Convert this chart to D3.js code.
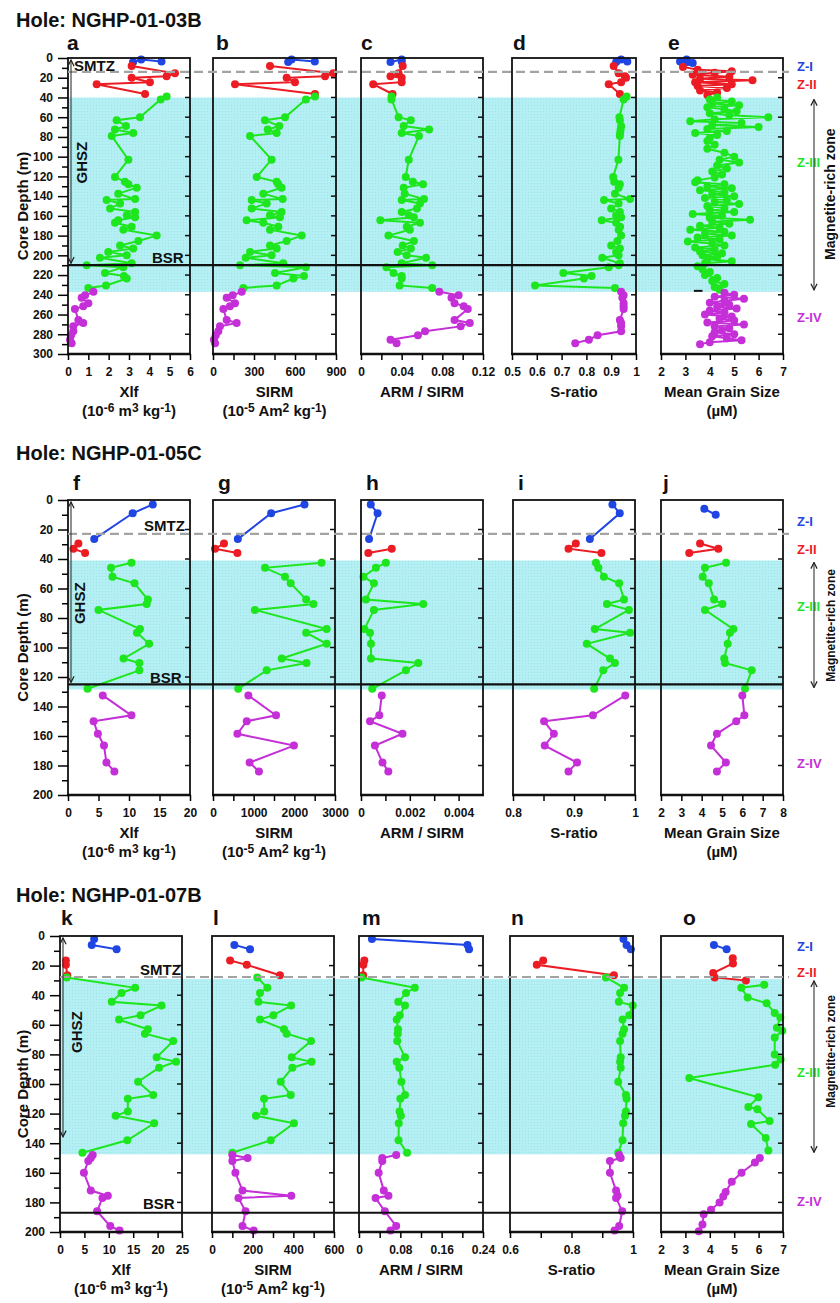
<!DOCTYPE html>
<html>
<head>
<meta charset="utf-8">
<script src="https://cdnjs.cloudflare.com/ajax/libs/d3/7.8.5/d3.min.js"></script>
<style>
  body { margin: 0; background: #fff; }
  text { font-family: "Liberation Sans Narrow", "Arial Narrow", "Liberation Sans", Arial, sans-serif; font-weight: bold; fill: #111; }
  .wide { font-family: "Liberation Sans", Arial, sans-serif; }
</style>
</head>
<body>
<svg id="fig" width="840" height="1303"></svg>
<script>
// zone colours + names
const zoneColor = ["#1f45e2", "#ec1c24", "#1ee61e", "#c42fd8"];
const zoneName = ["Z-I", "Z-II", "Z-III", "Z-IV"];

// ---------- Hole NGHP-01-03B ----------
const h03BlueDepth = [4, 1.5, 3.5];
const h03RedDepth = [8, 15.5, 18.5, 20, 24.5, 26.5, 36.5];
const h03GreenDepth = [39, 42, 60, 63, 69, 72.5, 76, 79, 103, 120.5, 125.5, 128, 131.5, 137.5, 143, 144, 147.5, 152.5, 156, 159.5,
  161.5, 164.5, 167, 171, 174, 180, 185.5, 190, 193, 196.5, 200, 202.5, 208, 210, 212, 218, 221, 223.5, 230.5, 233];
const h03MagDepth = [237, 240.5, 243, 248.5, 251.5, 254.5, 265.5, 268.5, 272, 277, 281, 285.5, 289];

const xlf03Blue = [3.2, 3.6, 4.6];
const xlf03Red = [3.13, 5.26, 4.85, 3.13, 4.03, 1.41, 3.79];
const xlf03Green = [4.85, 4.56, 3.54, 2.39, 2.85, 2.31, 3.21, 2.15, 2.97, 2.31, 2.8, 2.97, 3.38, 2.47, 3.3, 1.9, 2.56, 2.07, 3.3, 2.89,
  3.3, 2.47, 2.31, 3.13, 2.72, 4.36, 3.46, 2.56, 3.21, 1.98, 2.89, 1.57, 3.13, 0.92, 2.72, 1.82, 2.75, 2.89, 1.87, 1.0];
const xlf03Mag = [1.25, 0.84, 0.67, 1.0, 0.75, 0.34, 0.51, 0.75, 0.26, 0.26, 0.15, 0.1, 0.18];

const sirm03Blue = [550, 575, 745];
const sirm03Red = [417, 880, 820, 539, 600, 161, 746];
const sirm03Green = [746, 680, 527, 380, 485, 400, 466, 271, 429, 320, 466, 478, 502, 368, 510, 283, 393, 283, 502, 417,
  490, 246, 368, 478, 417, 649, 539, 417, 466, 271, 429, 239, 514, 198, 680, 454, 666, 588, 466, 222];
const sirm03Mag = [210, 144, 100, 161, 124, 76, 100, 173, 51, 39, 20, 7, 15];

const arm03Blue = [0.029, 0.040, 0.040];
const arm03Red = [0.041, 0.037, 0.029, 0.040, 0.040, 0.012, 0.031];
const arm03Green = [0.030, 0.030, 0.037, 0.049, 0.042, 0.067, 0.040, 0.057, 0.047, 0.044, 0.051, 0.061, 0.042, 0.043, 0.062, 0.040,
  0.058, 0.055, 0.040, 0.047, 0.052, 0.019, 0.058, 0.045, 0.048, 0.027, 0.052, 0.041, 0.049, 0.036, 0.045, 0.064, 0.040, 0.070,
  0.025, 0.032, 0.040, 0.040, 0.038, 0.070];
const arm03Mag = [0.077, 0.096, 0.089, 0.092, 0.101, 0.105, 0.092, 0.107, 0.098, 0.063, 0.056, 0.029, 0.035];

const sr03Blue = [0.92, 0.94, 0.965];
const sr03Red = [0.91, 0.93, 0.955, 0.96, 0.94, 0.89, 0.935];
const sr03Green = [0.962, 0.95, 0.933, 0.935, 0.94, 0.938, 0.936, 0.935, 0.929, 0.908, 0.912, 0.935, 0.93, 0.915, 0.976, 0.871,
  0.93, 0.9, 0.935, 0.92, 0.94, 0.862, 0.92, 0.936, 0.93, 0.94, 0.925, 0.9, 0.935, 0.92, 0.93, 0.864, 0.935, 0.93, 0.89, 0.707,
  0.821, 0.79, 0.593, 0.915];
const sr03Mag = [0.94, 0.95, 0.945, 0.95, 0.95, 0.95, 0.935, 0.94, 0.94, 0.94, 0.845, 0.81, 0.755];

// grain size was measured on a denser set of samples
const mgs03BlueDepth = [3.5, 1.5, 4, 5];
const mgs03Blue = [2.78, 3.05, 3.1, 3.3];
const mgs03RedDepth = [9, 12, 13.5, 15, 17, 19, 21, 22.5, 24.5, 26.5, 28.5, 30.5, 33, 35, 37.5];
const mgs03Red = [2.9, 3.5, 4.9, 4.2, 3.3, 4.8, 3.6, 5.75, 3.4, 4.9, 3.5, 4.7, 3.6, 4.3, 3.9];
const mgs03GreenDepth = [40, 42, 44, 46, 48, 50, 52, 54, 56, 58, 60, 62, 64, 66, 68, 70, 72, 74, 76, 78, 81, 84, 88, 92, 96, 100,
  103, 106, 109, 112, 115, 118, 121, 124, 126, 128, 130, 132, 134, 136, 138, 140, 142, 144, 146, 148, 150, 152, 154, 156, 158,
  160, 162, 164, 166, 168, 170, 172, 174, 176, 178, 180, 182, 184, 186, 188, 190, 192, 194, 196, 198, 200, 202, 204, 206, 208,
  211, 214, 217, 220, 223, 226, 229, 232, 235];
const mgs03Green = [4.3, 4.0, 4.9, 4.1, 5.2, 3.9, 4.6, 5.1, 4.0, 4.8, 6.4, 4.2, 3.2, 5.3, 4.1, 6.0, 3.9, 4.7, 3.4, 4.3, 4.0, 3.9,
  4.2, 3.9, 4.6, 5.0, 4.4, 5.2, 4.3, 4.7, 4.1, 4.5, 4.2, 3.5, 3.4, 4.6, 3.9, 4.9, 3.6, 4.6, 4.1, 5.0, 3.8, 4.7, 4.2, 5.2, 3.9, 4.6,
  4.0, 5.0, 3.3, 4.5, 4.0, 5.65, 4.1, 4.8, 3.6, 4.4, 3.2, 4.6, 3.8, 4.9, 3.5, 4.4, 3.1, 4.1, 4.6, 3.4, 4.2, 3.6, 4.5, 3.7, 4.3,
  3.9, 4.9, 3.8, 3.5, 3.7, 4.0, 3.8, 4.3, 4.1, 4.6, 4.2, 4.4];
const mgs03MagDepth = [238, 240, 242, 244, 246, 248, 250, 252, 254, 256, 258, 260, 262, 264, 266, 268, 270, 272, 274, 276, 278,
  280, 282, 284, 286, 288, 290];
const mgs03Mag = [4.6, 5.0, 4.2, 5.4, 4.6, 4.0, 4.8, 4.3, 5.1, 4.0, 4.6, 3.8, 4.9, 4.4, 5.0, 3.9, 5.4, 4.2, 4.8, 4.5, 4.2, 5.0,
  4.1, 4.7, 5.3, 4.0, 3.6];

// ---------- Hole NGHP-01-05C ----------
const h05BlueDepth = [3, 9, 26.5];
const h05RedDepth = [29.5, 33, 36];
const h05GreenDepth = [42.5, 46, 52, 56.5, 67.5, 70.5, 74.5, 87.5, 90, 97.5, 107.5, 110.5, 115.5, 128];
const h05MagDepth = [132.5, 146, 150, 158.5, 166.5, 178, 184];

const xlf05Blue = [13.9, 10.6, 4.3];
const xlf05Red = [1.7, 0.9, 2.8];
const xlf05Green = [10.4, 7.05, 7.3, 10.9, 13.1, 12.9, 5.0, 11.8, 11.3, 13.3, 9.1, 11.7, 11.7, 3.2];
const xlf05Mag = [5.7, 10.4, 4.2, 4.9, 5.9, 6.3, 7.6];

const sirm05Blue = [2250, 1430, 610];
const sirm05Red = [270, 50, 600];
const sirm05Green = [2670, 1280, 1770, 1910, 2290, 2470, 1030, 2795, 2290, 2795, 1690, 2300, 1320, 620];
const sirm05Mag = [870, 1550, 830, 600, 1990, 900, 1130];

const arm05Blue = [0.0004, 0.00068, 0.00033];
const arm05Red = [null, 0.00126, 0.0003];
const arm05Green = [0.00102, 0.00061, 0.0001, 0.00053, 0.0002, 0.00255, 0.00053, 0.00014, 0.00037, 0.00041, 0.00041, 0.00235,
  0.00184, 0.00046];
const arm05Mag = [0.00085, 0.00075, 0.00037, 0.0017, 0.00057, 0.00088, 0.00112];

const sr05Blue = [0.963, 0.975, 0.926];
const sr05Red = [0.903, 0.891, 0.945];
const sr05Green = [0.936, 0.94, 0.949, 0.974, 0.982, 0.954, 0.99, 0.934, 0.992, 0.921, 0.959, 0.967, 0.948, 0.933];
const sr05Mag = [0.984, 0.931, 0.851, 0.867, 0.852, 0.905, 0.891];

const mgs05BlueDepth = [6, 10];
const mgs05Blue = [4.13, 4.69];
const mgs05Red = [3.92, 4.82, 3.39];
const mgs05Green = [5.2, 4.16, 4.05, 4.35, 4.61, 5.02, 4.16, 5.56, 5.39, 5.28, 5.11, 5.15, 6.46, 6.13];
const mgs05Mag = [6.0, 6.1, 5.7, 4.75, 4.46, 5.19, 4.75];

// ---------- Hole NGHP-01-07B ----------
const h07BlueDepth = [2, 6, 9];
const h07RedDepth = [16.5, 19.5, 26.5];
const h07GreenDepth = [28, 35, 38.5, 44.5, 47, 53.5, 56.5, 63, 66, 71, 82, 85, 89, 98.5, 107.5, 110, 118.5, 121.5, 126.5, 138,
  146.5];
const h07MagDepth = [148, 150, 152, 160, 172, 175.5, 177, 186, 196, 199];

const xlf07Blue = [7.0, 6.5, 11.6];
const xlf07Red = [1.2, 1.2, 1.5];
const xlf07Green = [1.37, 15.4, 12.6, 10.6, 20.8, 16.5, 12.1, 18.0, 17.4, 23.2, 19.8, 23.8, 20.3, 16.0, 19.1, 13.9, 13.9, 11.4,
  19.3, 13.8, 4.6];
const xlf07Mag = [6.7, 6.3, 5.8, 4.9, 6.3, 9.8, 8.7, 7.6, 10.3, 12.2];

const sirm07Blue = [null, 110, 187];
const sirm07Red = [89, 171, 334];
const sirm07Green = [223, 272, 236, 228, 389, 302, 236, 354, 367, 487, 392, 490, 395, 338, 387, 256, 257, 216, 403, 289, 100];
const sirm07Mag = [100, 175, 100, 115, 150, 390, 130, 165, 150, 205];

const arm07Blue = [0.025, 0.21, 0.213];
const arm07Red = [0.0103, 0.0084, 0.008];
const arm07Green = [0.005, 0.108, 0.091, 0.076, 0.089, 0.079, 0.073, 0.0755, 0.075, 0.074, 0.089, 0.073, 0.078, 0.082, 0.089,
  0.08, 0.0785, 0.081, 0.077, 0.0765, 0.093];
const arm07Mag = [0.072, 0.045, 0.045, 0.038, 0.048, 0.057, 0.032, 0.05, 0.072, 0.061];

const sr07Blue = [0.969, 0.979, 0.993];
const sr07Red = [0.708, 0.687, 0.938];
const sr07Green = [0.912, 0.971, 0.958, 0.954, 0.999, 0.988, 0.966, 0.971, 0.966, 0.958, 0.96, 0.958, 0.96, 0.952, 0.977, 0.979,
  0.977, 0.974, 0.968, 0.966, 0.952];
const sr07Mag = [0.955, 0.96, 0.925, 0.925, 0.945, 0.95, 0.945, 0.965, 0.955, 0.94];

const mgs07Blue = [null, 4.17, 4.69];
const mgs07RedDepth = [15, 18.5, 25, 28, 30];
const mgs07Red = [4.94, 4.95, 4.14, 4.2, 5.48];
const mgs07GreenDepth = [33, 35, 41.5, 45.5, 52, 55, 62, 64, 68.5, 80, 83.5, 87, 96, 109, 115.5, 117, 125, 127, 136.5, 145];
const mgs07Green = [6.23, 5.29, 5.55, 6.33, 6.66, 6.89, 6.75, 6.97, 6.66, 6.66, 6.9, 6.68, 3.16, 5.99, 5.58, 5.95, 6.45, 5.69,
  6.29, 6.4];
const mgs07MagDepth = [150, 153, 160, 166, 173, 176, 180, 185, 188, 195, 199.5];
const mgs07Mag = [6.05, 5.85, 5.3, 4.9, 4.65, 4.55, 4.4, 4.05, 3.75, 3.7, 3.55];

// ---------- tick labels ----------
const depthTicks300 = [0, 20, 40, 60, 80, 100, 120, 140, 160, 180, 200, 220, 240, 260, 280, 300];
const depthTicks200 = [0, 20, 40, 60, 80, 100, 120, 140, 160, 180, 200];
const xlfTicks03 = [0, 1, 2, 3, 4, 5, 6];
const sirmTicks03 = [0, 300, 600, 900];
const armTicks03 = [0, 0.04, 0.08, 0.12];
const srTicks03 = [0.5, 0.6, 0.7, 0.8, 0.9, 1];
const mgsTicks03 = [2, 3, 4, 5, 6, 7];
const xlfTicks05 = [0, 5, 10, 15, 20];
const sirmTicks05 = [0, 1000, 2000, 3000];
const armTicks05 = [0, 0.002, 0.004];
const srTicks05 = [0.8, 0.9, 1];
const mgsTicks05 = [2, 3, 4, 5, 6, 7, 8];
const xlfTicks07 = [0, 5, 10, 15, 20, 25];
const sirmTicks07 = [0, 200, 400, 600];
const armTicks07 = [0, 0.08, 0.16, 0.24];
const srTicks07 = [0.6, 0.8, 1];
const mgsTicks07 = [2, 3, 4, 5, 6, 7];

// axis titles (second line split in [text, superscript?] parts)
const titleXlf = ["Xlf", [["(10", 0], ["-6", 1], [" m", 0], ["3", 1], [" kg", 0], ["-1", 1], [")", 0]]];
const titleSirm = ["SIRM", [["(10", 0], ["-5", 1], [" Am", 0], ["2", 1], [" kg", 0], ["-1", 1], [")", 0]]];
const titleArm = ["ARM / SIRM", null];
const titleSr = ["S-ratio", null];
const titleMgs = ["Mean Grain Size", [["(\u00b5M)", 0]]];

const rows = [
  {
    title: "Hole: NGHP-01-03B", titleY: 27, letterY: 50,
    top: 58, bottom: 354, depthMax: 300, yTicks: depthTicks300,
    lefts: [68, 213, 361, 512, 661], widths: [122, 123, 122, 124, 122],
    smtz: 14, bsr: 210, shade: [40, 237], ghszEnd: 210,
    smtzText: [74, 8], ghszText: [82, 106], bsrText: [152, 203],
    zoneY: [8, 26, 105, 263], mrzY: 138, mrzSize: 14,
    panels: [
      { letter: "a", lx: 67, domain: [0, 6], ticks: xlfTicks03, minor: [], title: titleXlf,
        series: [[0, h03BlueDepth, xlf03Blue], [1, h03RedDepth, xlf03Red], [2, h03GreenDepth, xlf03Green], [3, h03MagDepth, xlf03Mag]] },
      { letter: "b", lx: 216, domain: [0, 900], ticks: sirmTicks03, minor: [150, 450, 750], title: titleSirm,
        series: [[0, h03BlueDepth, sirm03Blue], [1, h03RedDepth, sirm03Red], [2, h03GreenDepth, sirm03Green], [3, h03MagDepth, sirm03Mag]] },
      { letter: "c", lx: 361, domain: [0, 0.12], ticks: armTicks03, minor: [0.02, 0.06, 0.1], title: titleArm,
        series: [[0, h03BlueDepth, arm03Blue], [1, h03RedDepth, arm03Red], [2, h03GreenDepth, arm03Green], [3, h03MagDepth, arm03Mag]] },
      { letter: "d", lx: 513, domain: [0.5, 1], ticks: srTicks03, minor: [], title: titleSr,
        series: [[0, h03BlueDepth, sr03Blue], [1, h03RedDepth, sr03Red], [2, h03GreenDepth, sr03Green], [3, h03MagDepth, sr03Mag]] },
      { letter: "e", lx: 668, domain: [2, 7], ticks: mgsTicks03, minor: [], title: titleMgs,
        series: [[0, mgs03BlueDepth, mgs03Blue], [1, mgs03RedDepth, mgs03Red], [2, mgs03GreenDepth, mgs03Green], [3, mgs03MagDepth, mgs03Mag]] }
    ]
  },
  {
    title: "Hole: NGHP-01-05C", titleY: 460, letterY: 490,
    top: 500, bottom: 795, depthMax: 200, yTicks: depthTicks200,
    lefts: [68, 213, 361, 513, 661], widths: [122, 122, 122, 122, 122],
    smtz: 23, bsr: 125, shade: [41, 128.5], ghszEnd: 125,
    smtzText: [144, 17.7], ghszText: [80, 70], bsrText: [150, 120.5],
    zoneY: [14, 33, 72, 178], mrzY: 85, mrzSize: 12,
    panels: [
      { letter: "f", lx: 73, domain: [0, 20], ticks: xlfTicks05, minor: [], title: titleXlf,
        series: [[0, h05BlueDepth, xlf05Blue], [1, h05RedDepth, xlf05Red], [2, h05GreenDepth, xlf05Green], [3, h05MagDepth, xlf05Mag]] },
      { letter: "g", lx: 218, domain: [0, 3000], ticks: sirmTicks05, minor: [500, 1500, 2500], title: titleSirm,
        series: [[0, h05BlueDepth, sirm05Blue], [1, h05RedDepth, sirm05Red], [2, h05GreenDepth, sirm05Green], [3, h05MagDepth, sirm05Mag]] },
      { letter: "h", lx: 366, domain: [0, 0.005], ticks: armTicks05, minor: [0.001, 0.003], title: titleArm,
        series: [[0, h05BlueDepth, arm05Blue], [1, h05RedDepth, arm05Red], [2, h05GreenDepth, arm05Green], [3, h05MagDepth, arm05Mag]] },
      { letter: "i", lx: 518, domain: [0.8, 1], ticks: srTicks05, minor: [0.85, 0.95], title: titleSr,
        series: [[0, h05BlueDepth, sr05Blue], [1, h05RedDepth, sr05Red], [2, h05GreenDepth, sr05Green], [3, h05MagDepth, sr05Mag]] },
      { letter: "j", lx: 663, domain: [2, 8], ticks: mgsTicks05, minor: [], title: titleMgs,
        series: [[0, mgs05BlueDepth, mgs05Blue], [1, h05RedDepth, mgs05Red], [2, h05GreenDepth, mgs05Green], [3, h05MagDepth, mgs05Mag]] }
    ]
  },
  {
    title: "Hole: NGHP-01-07B", titleY: 902, letterY: 925,
    top: 936, bottom: 1232, depthMax: 200, yTicks: depthTicks200,
    lefts: [60, 212, 359, 510, 661], widths: [122, 122, 124, 123, 122],
    smtz: 27.7, bsr: 187, shade: [29, 147.5], ghszEnd: 137,
    smtzText: [140, 23], ghszText: [77, 65], bsrText: [143, 181],
    zoneY: [7, 24, 92, 179], mrzY: 78, mrzSize: 12,
    panels: [
      { letter: "k", lx: 61, domain: [0, 25], ticks: xlfTicks07, minor: [], title: titleXlf,
        series: [[0, h07BlueDepth, xlf07Blue], [1, h07RedDepth, xlf07Red], [2, h07GreenDepth, xlf07Green], [3, h07MagDepth, xlf07Mag]] },
      { letter: "l", lx: 213, domain: [0, 600], ticks: sirmTicks07, minor: [100, 300, 500], title: titleSirm,
        series: [[0, h07BlueDepth, sirm07Blue], [1, h07RedDepth, sirm07Red], [2, h07GreenDepth, sirm07Green], [3, h07MagDepth, sirm07Mag]] },
      { letter: "m", lx: 362, domain: [0, 0.24], ticks: armTicks07, minor: [0.04, 0.12, 0.2], title: titleArm,
        series: [[0, h07BlueDepth, arm07Blue], [1, h07RedDepth, arm07Red], [2, h07GreenDepth, arm07Green], [3, h07MagDepth, arm07Mag]] },
      { letter: "n", lx: 511, domain: [0.6, 1], ticks: srTicks07, minor: [0.7, 0.9], title: titleSr,
        series: [[0, h07BlueDepth, sr07Blue], [1, h07RedDepth, sr07Red], [2, h07GreenDepth, sr07Green], [3, h07MagDepth, sr07Mag]] },
      { letter: "o", lx: 683, domain: [2, 7], ticks: mgsTicks07, minor: [], title: titleMgs,
        series: [[0, h07BlueDepth, mgs07Blue], [1, mgs07RedDepth, mgs07Red], [2, mgs07GreenDepth, mgs07Green], [3, mgs07MagDepth, mgs07Mag]] }
    ]
  }
];

const svg = d3.select("#fig");

const defs = svg.append("defs");
defs.append("marker")
  .attr("id", "ah")
  .attr("viewBox", "0 0 10 10")
  .attr("refX", 9).attr("refY", 5)
  .attr("markerWidth", 7).attr("markerHeight", 7)
  .attr("orient", "auto-start-reverse")
  .append("path")
  .attr("d", "M1,1 L9,5 L1,9")
  .attr("fill", "none")
  .attr("stroke", "#222")
  .attr("stroke-width", 1.6);

// dotted texture for the magnetite-rich band
const pat = defs.append("pattern")
  .attr("id", "dots")
  .attr("width", 3).attr("height", 3)
  .attr("patternUnits", "userSpaceOnUse");
pat.append("rect").attr("width", 3).attr("height", 3).attr("fill", "#b4eff3");
pat.append("rect").attr("width", 1).attr("height", 1).attr("fill", "#9fe2e8");

rows.forEach(row => {
  const g = svg.append("g");
  const y = d3.scaleLinear().domain([0, row.depthMax]).range([row.top, row.bottom]);
  const x0 = row.lefts[0];
  const x1 = row.lefts[4] + row.widths[4];

  g.append("text")
    .attr("class", "wide")
    .attr("x", 16).attr("y", row.titleY)
    .attr("font-size", 20)
    .text(row.title);

  // magnetite-rich band
  g.append("rect")
    .attr("x", x0).attr("y", y(row.shade[0]))
    .attr("width", x1 - x0)
    .attr("height", y(row.shade[1]) - y(row.shade[0]))
    .attr("fill", "url(#dots)");

  row.panels.forEach((p, i) => {
    const left = row.lefts[i], w = row.widths[i];
    const x = d3.scaleLinear().domain(p.domain).range([left, left + w]);

    // series: line then dots
    p.series.forEach(([zone, depths, values]) => {
      const pts = depths.map((d, k) => [values[k], d]).filter(q => q[0] != null);
      const line = d3.line().x(q => x(q[0])).y(q => y(q[1]));
      g.append("path")
        .attr("d", line(pts))
        .attr("fill", "none")
        .attr("stroke", zoneColor[zone])
        .attr("stroke-width", 2);
      g.append("g").selectAll("circle")
        .data(pts).enter()
        .append("circle")
        .attr("cx", q => x(q[0]))
        .attr("cy", q => y(q[1]))
        .attr("r", 4)
        .attr("fill", zoneColor[zone]);
    });

    // frame
    g.append("rect")
      .attr("x", left).attr("y", row.top)
      .attr("width", w).attr("height", row.bottom - row.top)
      .attr("fill", "none").attr("stroke", "#111").attr("stroke-width", 1.8);
    g.append("line")
      .attr("x1", left - 1).attr("x2", left + w + 1)
      .attr("y1", row.bottom).attr("y2", row.bottom)
      .attr("stroke", "#111").attr("stroke-width", 2.6);

    // inner ticks on the right border
    g.append("g").selectAll("line")
      .data(row.yTicks.slice(1, -1)).enter()
      .append("line")
      .attr("x1", left + w - 5).attr("x2", left + w)
      .attr("y1", d => y(d)).attr("y2", d => y(d))
      .attr("stroke", "#111").attr("stroke-width", 1.5);

    // bottom axis
    const ax = g.append("g")
      .attr("transform", `translate(0,${row.bottom})`)
      .call(d3.axisBottom(x).tickValues(p.ticks).tickFormat(d => d).tickSize(6).tickPadding(7))
      .attr("font-size", 12).attr("font-family", null);
    ax.select(".domain").remove();
    ax.selectAll("line").attr("stroke-width", 1.5);
    if (p.minor.length) {
      const mx = g.append("g")
        .attr("transform", `translate(0,${row.bottom})`)
        .call(d3.axisBottom(x).tickValues(p.minor).tickFormat("").tickSize(6));
      mx.select(".domain").remove();
      mx.selectAll("line").attr("stroke-width", 1.5);
    }

    // axis title
    const cx = left + w / 2;
    g.append("text")
      .attr("x", cx).attr("y", row.bottom + 43)
      .attr("text-anchor", "middle").attr("font-size", 15)
      .text(p.title[0]);
    if (p.title[1]) {
      const t = g.append("text")
        .attr("x", cx).attr("y", row.bottom + 62)
        .attr("text-anchor", "middle").attr("font-size", 15);
      p.title[1].forEach(([s, sup]) => {
        t.append("tspan")
          .attr("font-size", sup ? 12 : 15)
          .attr("baseline-shift", sup ? "35%" : null)
          .text(s);
      });
    }

    // panel letter
    g.append("text")
      .attr("class", "wide")
      .attr("x", p.lx).attr("y", row.letterY)
      .attr("font-size", 21)
      .text(p.letter);

    // first panel carries the depth axis
    if (i === 0) {
      const ay = g.append("g")
        .attr("transform", `translate(${left},0)`)
        .call(d3.axisLeft(y).tickValues(row.yTicks).tickFormat(d => d).tickSize(10).tickPadding(5))
        .attr("font-size", 12).attr("font-family", null);
      ay.select(".domain").remove();
      ay.selectAll("line").attr("stroke-width", 1.5);
      const minorY = row.yTicks.slice(1).map(d => d - 10);
      const my = g.append("g")
        .attr("transform", `translate(${left},0)`)
        .call(d3.axisLeft(y).tickValues(minorY).tickFormat("").tickSize(6));
      my.select(".domain").remove();
      my.selectAll("line").attr("stroke-width", 1.5);
    }
  });

  // SMTZ dashed line and BSR line
  g.append("line")
    .attr("x1", x0).attr("x2", x1 + 6)
    .attr("y1", y(row.smtz)).attr("y2", y(row.smtz))
    .attr("stroke", "#a3a3a3").attr("stroke-width", 2.2)
    .attr("stroke-dasharray", "9,5");
  g.append("line")
    .attr("x1", x0).attr("x2", x1)
    .attr("y1", y(row.bsr)).attr("y2", y(row.bsr))
    .attr("stroke", "#111").attr("stroke-width", 2.2);

  // GHSZ arrow + labels
  const ax0 = x0 + 3;
  g.append("line")
    .attr("x1", ax0).attr("x2", ax0)
    .attr("y1", y(0) + 2).attr("y2", y(row.ghszEnd) - 2)
    .attr("stroke", "#333").attr("stroke-width", 1.1)
    .attr("marker-start", "url(#ah)").attr("marker-end", "url(#ah)");
  g.append("text")
    .attr("class", "wide")
    .attr("transform", `translate(${row.ghszText[0] + 5},${y(row.ghszText[1])}) rotate(-90)`)
    .attr("text-anchor", "middle").attr("font-size", 15)
    .text("GHSZ");
  g.append("text")
    .attr("class", "wide")
    .attr("x", row.smtzText[0]).attr("y", y(row.smtzText[1]) + 5)
    .attr("font-size", 15)
    .text("SMTZ");
  g.append("text")
    .attr("class", "wide")
    .attr("x", row.bsrText[0]).attr("y", y(row.bsrText[1]) + 5)
    .attr("font-size", 15)
    .text("BSR");

  // depth axis title
  g.append("text")
    .attr("class", "wide")
    .attr("transform", `translate(28,${(row.top + row.bottom) / 2}) rotate(-90)`)
    .attr("text-anchor", "middle").attr("font-size", 15)
    .text("Core Depth (m)");

  // zone names at right
  row.zoneY.forEach((d, k) => {
    g.append("text")
      .attr("x", 797).attr("y", y(d) + 5)
      .attr("font-size", 13)
      .attr("fill", zoneColor[k])
      .style("fill", zoneColor[k])
      .text(zoneName[k]);
  });

  // magnetite-rich zone arrow
  g.append("line")
    .attr("x1", 814).attr("x2", 814)
    .attr("y1", y(row.shade[0]) + 2).attr("y2", y(row.shade[1]) - 2)
    .attr("stroke", "#333").attr("stroke-width", 1.1)
    .attr("marker-start", "url(#ah)").attr("marker-end", "url(#ah)");
  g.append("text")
    .attr("class", "wide")
    .attr("transform", `translate(835,${y(row.mrzY)}) rotate(-90)`)
    .attr("text-anchor", "middle").attr("font-size", row.mrzSize)
    .text("Magnetite-rich zone");
});

// small dash mark inside panel e
{
  const r = rows[0];
  const y = d3.scaleLinear().domain([0, r.depthMax]).range([r.top, r.bottom]);
  const x = d3.scaleLinear().domain([2, 7]).range([r.lefts[4], r.lefts[4] + r.widths[4]]);
  svg.append("line")
    .attr("x1", x(3.35)).attr("x2", x(3.7))
    .attr("y1", y(236)).attr("y2", y(236))
    .attr("stroke", "#111").attr("stroke-width", 2);
}
</script>
</body>
</html>
